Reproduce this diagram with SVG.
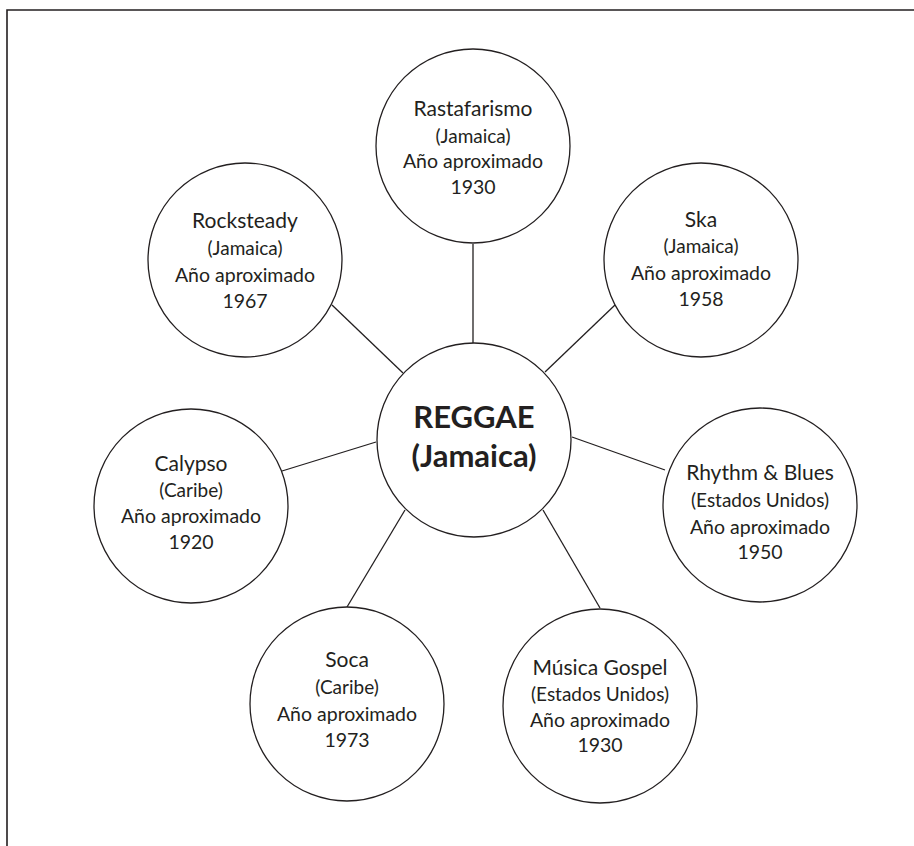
<svg xmlns="http://www.w3.org/2000/svg" width="914" height="846" viewBox="0 0 914 846">
<style>
  .bg { fill: #ffffff; }
  .frame { fill: none; stroke: #231f20; stroke-width: 1.6; }
  .node circle { fill: #ffffff; stroke: #231f20; stroke-width: 1.3; }
  .conn line { stroke: #231f20; stroke-width: 1.3; }
  text { font-family: Lato, "Open Sans", "Liberation Sans", sans-serif; fill: #231f20; text-anchor: middle; }
  .n { font-size: 21px; }
  .c { font-size: 19px; }
  .y { font-size: 19.5px; }
  .hub { font-size: 31px; font-weight: bold; }
</style>
<rect class="bg" x="0" y="0" width="914" height="846"/>
<path class="frame" d="M7,846 V10 H914"/>
<g id="connectors" class="conn">
  <line x1="473" y1="244" x2="473" y2="343"/>
  <line x1="332" y1="305" x2="403" y2="373"/>
  <line x1="615" y1="305" x2="545" y2="372"/>
  <line x1="282" y1="471" x2="376" y2="442"/>
  <line x1="572" y1="437" x2="665" y2="470"/>
  <line x1="405" y1="510" x2="347" y2="607"/>
  <line x1="543" y1="510" x2="600" y2="608"/>
</g>
<g id="reggae" class="node">
  <circle cx="474" cy="440" r="97"/>
  <text class="hub" x="474" y="428">REGGAE</text>
  <text class="hub" x="474" y="467">(Jamaica)</text>
</g>
<g id="rastafarismo" class="node">
  <circle cx="473" cy="146" r="97"/>
  <text class="n" x="473" y="116">Rastafarismo</text>
  <text class="c" x="473" y="143">(Jamaica)</text>
  <text class="y" x="473" y="168">Año aproximado</text>
  <text class="y" x="473" y="194">1930</text>
</g>
<g id="rocksteady" class="node">
  <circle cx="245" cy="260" r="97"/>
  <text class="n" x="245" y="228">Rocksteady</text>
  <text class="c" x="245" y="255">(Jamaica)</text>
  <text class="y" x="245" y="282">Año aproximado</text>
  <text class="y" x="245" y="308">1967</text>
</g>
<g id="ska" class="node">
  <circle cx="701" cy="260" r="97"/>
  <text class="n" x="701" y="227">Ska</text>
  <text class="c" x="701" y="253">(Jamaica)</text>
  <text class="y" x="701" y="280">Año aproximado</text>
  <text class="y" x="701" y="306">1958</text>
</g>
<g id="calypso" class="node">
  <circle cx="191" cy="506" r="97"/>
  <text class="n" x="191" y="471">Calypso</text>
  <text class="c" x="191" y="497">(Caribe)</text>
  <text class="y" x="191" y="523">Año aproximado</text>
  <text class="y" x="191" y="549">1920</text>
</g>
<g id="rhythm-blues" class="node">
  <circle cx="760" cy="505" r="97"/>
  <text class="n" x="760" y="480">Rhythm &amp; Blues</text>
  <text class="c" x="760" y="507">(Estados Unidos)</text>
  <text class="y" x="760" y="534">Año aproximado</text>
  <text class="y" x="760" y="559">1950</text>
</g>
<g id="soca" class="node">
  <circle cx="347" cy="704" r="97"/>
  <text class="n" x="347" y="667">Soca</text>
  <text class="c" x="347" y="694">(Caribe)</text>
  <text class="y" x="347" y="721">Año aproximado</text>
  <text class="y" x="347" y="747">1973</text>
</g>
<g id="musica-gospel" class="node">
  <circle cx="600" cy="706" r="97"/>
  <text class="n" x="600" y="675">Música Gospel</text>
  <text class="c" x="600" y="701">(Estados Unidos)</text>
  <text class="y" x="600" y="727">Año aproximado</text>
  <text class="y" x="600" y="752">1930</text>
</g>
</svg>
